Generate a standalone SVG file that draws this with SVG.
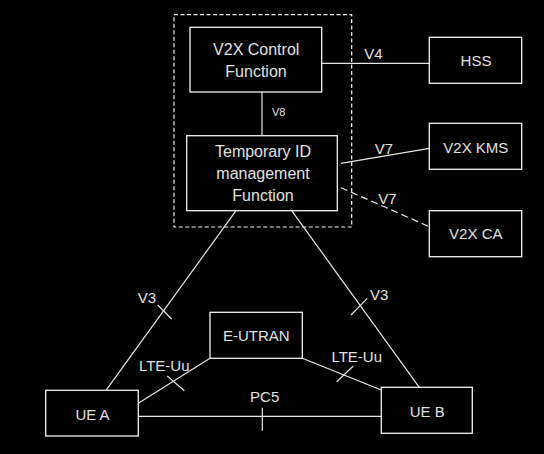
<svg xmlns="http://www.w3.org/2000/svg" width="544" height="454" viewBox="0 0 544 454">
<style>
.box{fill:#000;stroke:#f2f2f2;stroke-width:1.3}
.ln{fill:none;stroke:#e6e6e6;stroke-width:1.2}
.t{font-family:"Liberation Sans",Arial,sans-serif;fill:#e0e0e0;text-anchor:middle}
.b{font-size:16px}
.c{font-size:15px}
.s{font-size:11px;text-anchor:start}
</style>
<rect x="0" y="0" width="544" height="454" fill="#000"/>
<g id="connectors">
<rect x="174" y="14.7" width="177.7" height="212.3" fill="none" stroke="#f2f2f2" stroke-width="1.2" stroke-dasharray="4 2.5"/>
<line class="ln" x1="262" y1="92" x2="262" y2="135.7"/>
<line class="ln" x1="321.7" y1="63.3" x2="429.3" y2="63.3"/>
<line class="ln" x1="341" y1="163.3" x2="429.3" y2="148.3"/>
<line class="ln" x1="341" y1="187.7" x2="429.3" y2="226.7" stroke-dasharray="7 4"/>
<line class="ln" x1="106" y1="390.3" x2="236" y2="210.7"/>
<line class="ln" x1="157.7" y1="305" x2="171.7" y2="319"/>
<line class="ln" x1="291.7" y1="210.7" x2="419.3" y2="387.3"/>
<line class="ln" x1="351" y1="315" x2="367.3" y2="298.3"/>
<line class="ln" x1="138.3" y1="403.3" x2="210" y2="358.3"/>
<line class="ln" x1="167.3" y1="376" x2="184.3" y2="390.7"/>
<line class="ln" x1="302.3" y1="358.3" x2="381.3" y2="390"/>
<line class="ln" x1="336.7" y1="381.7" x2="353.3" y2="366"/>
<line class="ln" x1="138.3" y1="416.3" x2="381.3" y2="416.3"/>
<line class="ln" x1="262.3" y1="407.7" x2="262.3" y2="430.7"/>
<text class="t s" x="272" y="116.3">V8</text>
<text class="t c" x="373.5" y="59.3">V4</text>
<text class="t c" x="384" y="154">V7</text>
<text class="t c" x="387.5" y="204.3">V7</text>
<text class="t c" x="147" y="302.7">V3</text>
<text class="t c" x="379.2" y="300">V3</text>
<text class="t c" x="164.2" y="370.7">LTE-Uu</text>
<text class="t c" x="356.7" y="361.7">LTE-Uu</text>
<text class="t c" x="264.7" y="402.3">PC5</text>
</g>
<g id="v2x-control-function">
<rect class="box" x="190" y="27.3" width="131.7" height="64.7"/>
<text class="t b" x="256.2" y="55">V2X Control</text>
<text class="t b" x="256" y="76.7">Function</text>
</g>
<g id="temporary-id-management-function">
<rect class="box" x="186.7" y="135.7" width="150.6" height="75"/>
<text class="t b" x="263" y="157.3">Temporary ID</text>
<text class="t b" x="263" y="178.5">management</text>
<text class="t b" x="263" y="200.5">Function</text>
</g>
<g id="hss">
<rect class="box" x="429.3" y="37.3" width="92.4" height="46"/>
<text class="t c" x="476" y="65.7">HSS</text>
</g>
<g id="v2x-kms">
<rect class="box" x="429.3" y="123.3" width="92.4" height="46"/>
<text class="t c" x="475.8" y="152.7">V2X KMS</text>
</g>
<g id="v2x-ca">
<rect class="box" x="429.3" y="210.7" width="92.4" height="46"/>
<text class="t c" x="475.8" y="239.3">V2X CA</text>
</g>
<g id="e-utran">
<rect class="box" x="210" y="312.3" width="92.3" height="46"/>
<text class="t c" x="256.3" y="341">E-UTRAN</text>
</g>
<g id="ue-a">
<rect class="box" x="45.7" y="390.3" width="92.6" height="45.7"/>
<text class="t c" x="92.5" y="420">UE A</text>
</g>
<g id="ue-b">
<rect class="box" x="381.3" y="387.3" width="91" height="46"/>
<text class="t c" x="427.3" y="416.7">UE B</text>
</g>
</svg>
